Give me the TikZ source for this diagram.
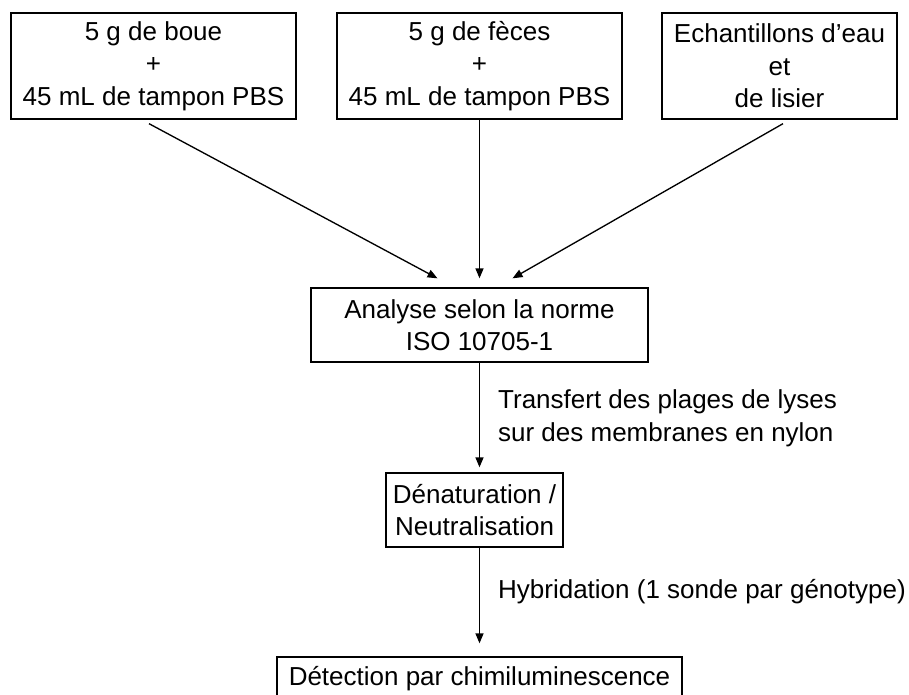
\documentclass[tikz,border=0pt]{standalone}
\usepackage{fontspec}
\setmainfont{Liberation Sans}
\usetikzlibrary{calc,arrows.meta}
\tikzset{
  flowfont/.style={font=\fontsize{19.5}{24.4}\selectfont},
  flowbox/.style={draw, line width=1pt, align=center, inner sep=0pt},
  flowsample/.style={flowbox, minimum height=79.5pt},
  flowarrow/.style={-{Triangle[length=7.5pt, width=6pt]}, line width=1pt},
  flowlabel/.style={anchor=west, align=left, inner sep=0pt},
}
\begin{document}
\begin{tikzpicture}[flowfont, x=0.75pt, y=-0.75pt]
\useasboundingbox (0,0) rectangle (909,695);
% Sample boxes
\node[flowsample, minimum width=213.75pt] (boue) at (153.5,66) {5 g de boue\\+\\45 mL de tampon PBS};
\node[flowsample, minimum width=213.75pt] (feces) at (479.5,66) {5 g de fèces\\+\\45 mL de tampon PBS};
\node[flowsample, minimum width=176.25pt] (eau) at (779.5,66) {Echantillons d’eau\\et\\de lisier};
% Processing steps
\node[flowbox, minimum width=252.75pt, minimum height=55.5pt] (analyse) at (479.5,325) {Analyse selon la norme\\ISO 10705-1};
\node[flowbox, minimum width=132.75pt, minimum height=55.5pt] (denat) at (474.5,510) {Dénaturation /\\Neutralisation};
\node[flowbox, minimum width=303.75pt, minimum height=33pt] (detect) at (479.5,679) {Détection par chimiluminescence};

% Arrows into the analysis
\draw[flowarrow] ($(boue.south)+(-4.5,4)$) -- ($(analyse.north)+(-42,-9)$);
\draw[flowarrow] (feces.south) -- ($(analyse.north)+(0,-9)$);
\draw[flowarrow] ($(eau.south)+(3.5,4)$) -- ($(analyse.north)+(33,-9)$);

% Vertical arrows
\draw[flowarrow, shorten >=3.75pt] (analyse.south) -- node[flowlabel, xshift=13.5pt, yshift=-0.5pt] {Transfert des plages de lyses\\sur des membranes en nylon} (analyse.south |- denat.north);
\draw[flowarrow, shorten >=9.75pt] (analyse.south |- denat.south) -- node[flowlabel, xshift=13.5pt, yshift=7.5pt] {Hybridation (1 sonde par génotype)} (analyse.south |- detect.north);
\end{tikzpicture}
\end{document}
